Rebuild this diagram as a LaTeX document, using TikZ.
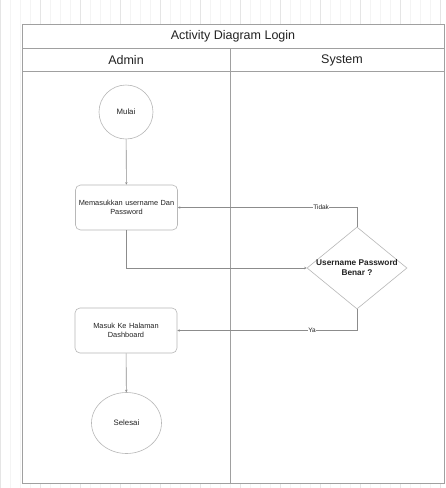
\documentclass[tikz,border=0pt]{standalone}
\usepackage{fontspec}
\setmainfont{Liberation Sans}
\usetikzlibrary{shapes.geometric,arrows.meta}
\definecolor{frameline}{HTML}{A0A0A0}
\definecolor{shapeline}{HTML}{B8B8B8}
\definecolor{conn}{HTML}{8C8C8C}
\definecolor{txt}{HTML}{222222}
\begin{document}
\begin{tikzpicture}[x=1pt,y=-1pt,
  frame/.style={draw=frameline,line width=0.9pt},
  lanetext/.style={text=txt,font=\fontsize{12.5}{14}\selectfont},
  startend/.style={circle,draw=shapeline,line width=0.6pt,fill=white,inner sep=0pt,text=txt,font=\fontsize{7.8}{9}\selectfont},
  actbox/.style={rectangle,rounded corners=5pt,draw=shapeline,line width=0.6pt,fill=white,inner sep=1pt,text=txt,align=center,font=\fontsize{7.4}{9.5}\selectfont,minimum width=102pt,minimum height=45pt,text width=100pt},
  decision/.style={diamond,draw=shapeline,line width=0.6pt,fill=white,inner sep=0pt,minimum width=100pt,minimum height=82pt},
  conn/.style={draw=conn,line width=0.6pt,-{Stealth[length=2.5pt,width=2.5pt]}},
  edgelabel/.style={fill=white,inner sep=0.5pt,text=txt,font=\fontsize{6.5}{7}\selectfont}
]
\useasboundingbox (0,0) rectangle (446,488);
% background grid
\fill[white] (0,0) rectangle (446,488);
\draw[gray!9,line width=0.4pt,step=10] (0,0) grid (446,488);
\draw[gray!20,line width=0.5pt,step=40] (0,0) grid (446,488);
% swimlane frame
\fill[white] (22,24) rectangle (444,483);
\draw[frame] (22,24) rectangle (444,483);
\draw[frame] (22,48) -- (444,48);
\draw[frame] (22,71) -- (444,71);
\draw[frame] (230,48) -- (230,483);
\node[lanetext] (title) at (233,36) {Activity Diagram Login};
\node[lanetext] (laneA) at (126,60) {Admin};
\node[lanetext] (laneS) at (342,60) {System};
% nodes
\node[startend,minimum size=54pt] (mulai) at (126,112) {Mulai};
\node[actbox] (b1) at (126.5,207.5) {Memasukkan username Dan\\Password};
\node[decision] (dec) at (357,268) {};
\node[text=txt,align=center,font=\bfseries\fontsize{8.3}{10}\selectfont] (declabel) at (357,268) {Username Password\\Benar ?};
\node[actbox] (b2) at (126,330.5) {Masuk Ke Halaman\\Dashboard};
\node[ellipse,draw=shapeline,line width=0.6pt,fill=white,inner sep=0pt,text=txt,font=\fontsize{7.8}{9}\selectfont,minimum width=70pt,minimum height=61pt] (selesai) at (126.5,423) {Selesai};
% connectors
\draw[conn] (mulai) -- (b1);
\draw[conn] (b1.south) |- (dec.west);
\draw[conn] (dec.north) |- node[edgelabel,pos=0.6] (lt) {Tidak} (b1.east);
\draw[conn] (dec.south) |- node[edgelabel,pos=0.625] (ly) {Ya} (b2.east);
\draw[conn] (b2) -- (selesai);
\end{tikzpicture}
\end{document}
